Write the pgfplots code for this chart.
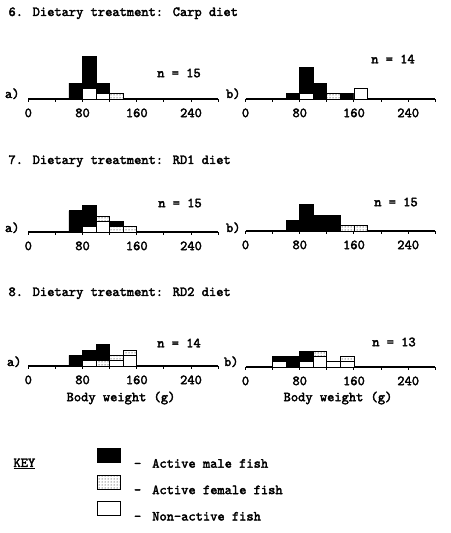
\documentclass[border=0pt]{standalone}
\usepackage{fontspec}
\usepackage{pgfplots}
\usepackage{pgfplotstable}
\pgfplotsset{compat=1.18}
\usetikzlibrary{patterns}
\newfontfamily\twfont{lmmono10-regular.otf}[FakeBold=2.5]
\newcommand\tw{\twfont\fontsize{13.8pt}{16pt}\selectfont}

% bins of 20 g, centre of bin; m = active male, f = active female, n = non-active
\pgfplotstableread{
x m f n
50 0 0 0
70 3 0 0
90 6 0 2
110 2 0 1
130 0 1 0
150 0 0 0
170 0 0 0
}\carpa
\pgfplotstableread{
x m f n
50 0 0 0
70 1 0 0
90 5 0 1
110 3 0 0
130 0 1 0
150 1 0 0
170 0 0 2
}\carpb
\pgfplotstableread{
x m f n
50 0 0 0
70 4 0 0
90 4 0 1
110 0 1 2
130 1 1 0
150 0 1 0
170 0 0 0
}\rda
\pgfplotstableread{
x m f n
50 0 0 0
70 2 0 0
90 5 0 0
110 3 0 0
130 3 0 0
150 0 1 0
170 0 1 0
}\rdb
\pgfplotstableread{
x m f n
50 0 0 0
70 2 0 0
90 2 0 1
110 3 1 0
130 0 1 1
150 0 1 2
170 0 0 0
}\rdc
\pgfplotstableread{
x m f n
50 1 0 1
70 2 0 0
90 2 0 1
110 0 1 2
130 0 0 1
150 0 1 1
170 0 0 0
}\rdd

\pgfplotsset{
  nonact/.style={draw=black, fill=white, line width=0.8pt},
  female/.style={draw=black, fill=white, line width=0.8pt, postaction={pattern=dots}},
  male/.style={draw=black, fill=black, line width=0.8pt},
  fish/.style={
    anchor=south west,
    x=0.678pt, y=5.3pt,
    xmin=0, xmax=280, ymin=0, ymax=9,
    axis x line=bottom, axis y line=none,
    axis line style={-, line width=1.1pt},
    xtick={0,40,...,280}, xticklabels={0,,80,,160,,240,},
    tick align=outside, major tick length=3pt,
    tick style={line width=1pt, black},
    xticklabel style={font=\tw, yshift=-3pt},
    ybar stacked, bar width=20,
    clip=false,
  },
}

\newcommand\histo[1]{%
  \addplot[nonact] table[x=x,y=n]{#1};
  \addplot[female] table[x=x,y=f]{#1};
  \addplot[male] table[x=x,y=m]{#1};
}

\begin{document}
\begin{tikzpicture}[x=1pt,y=1pt]
\useasboundingbox (0,0) rectangle (450,533);

\node[anchor=base west, font=\tw] at (5,517) {6. Dietary treatment: Carp diet};
\node[anchor=base west, font=\tw] at (5,369) {7. Dietary treatment: RD1 diet};
\node[anchor=base west, font=\tw] at (5,237) {8. Dietary treatment: RD2 diet};

\begin{axis}[fish, at={(28.3pt,434pt)}] \histo{\carpa} \end{axis}
\begin{axis}[fish, at={(245.5pt,434pt)}] \histo{\carpb} \end{axis}
\begin{axis}[fish, at={(28.3pt,301pt)}] \histo{\rda} \end{axis}
\begin{axis}[fish, at={(245.5pt,302pt)}] \histo{\rdb} \end{axis}
\begin{axis}[fish, at={(28.3pt,167pt)}] \histo{\rdc} \end{axis}
\begin{axis}[fish, at={(245.5pt,166pt)}] \histo{\rdd} \end{axis}

\node[anchor=base east, font=\tw] at (23,435) {a)};
\node[anchor=base east, font=\tw] at (244,435) {b)};
\node[anchor=base east, font=\tw] at (23,301) {a)};
\node[anchor=base east, font=\tw] at (244,301) {b)};
\node[anchor=base east, font=\tw] at (25,167) {a)};
\node[anchor=base east, font=\tw] at (242,167) {b)};

\node[font=\tw] at (179,460) {n = 15};
\node[font=\tw] at (393,474) {n = 14};
\node[font=\tw] at (180,330) {n = 15};
\node[font=\tw] at (396,331) {n = 15};
\node[font=\tw] at (179,190) {n = 14};
\node[font=\tw] at (394,191) {n = 13};

\node[font=\tw] at (121,135) {Body weight (g)};
\node[font=\tw] at (338,135) {Body weight (g)};

\node[anchor=base west, font=\tw] at (10,66) {\underline{KEY}};

\begin{axis}[
  hide axis, anchor=north west, at={(97pt,85pt)},
  scale only axis, width=40pt, height=70pt,
  xmin=0, xmax=1, ymin=0, ymax=1,
  legend image code/.code={\draw[#1] (0pt,1.5pt) rectangle (23pt,15.5pt);},
  legend style={at={(0,1)}, anchor=north west, draw=none, fill=none,
    inner sep=0pt, font=\tw, row sep=5.5pt,
    nodes={inner sep=0pt},
    /tikz/every odd column/.append style={column sep=13pt}},
  legend cell align=left,
]
\addlegendimage{male}
\addlegendentry{-\hspace{11pt}Active male fish}
\addlegendimage{female}
\addlegendentry{-\hspace{11pt}Active female fish}
\addlegendimage{nonact}
\addlegendentry{-\hspace{11pt}Non-active fish}
\end{axis}
\end{tikzpicture}
\end{document}
